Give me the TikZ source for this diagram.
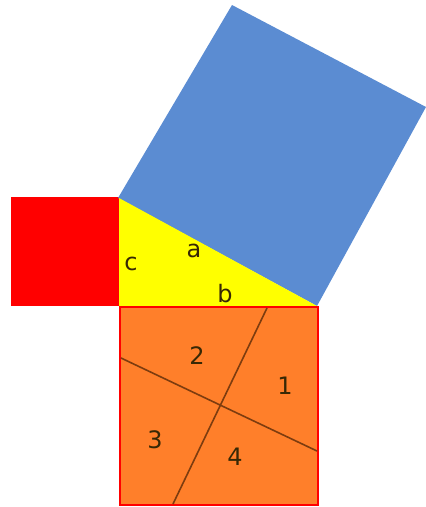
\documentclass[tikz,border=0pt]{standalone}
\usepackage{fontspec}
\setmainfont{DejaVu Sans}
\definecolor{sqred}{RGB}{255,0,0}
\definecolor{triyellow}{RGB}{255,255,0}
\definecolor{sqblue}{RGB}{91,140,210}
\definecolor{sqorange}{RGB}{255,127,42}
\definecolor{cutline}{RGB}{125,60,15}
\definecolor{labeltext}{RGB}{55,40,5}
\tikzset{
  lbl/.style={text=labeltext, font=\fontsize{24}{28}\selectfont, inner sep=0pt},
  cut/.style={draw=cutline, line width=1.6pt}
}
\begin{document}
\begin{tikzpicture}[x=1pt,y=-1pt]
\useasboundingbox (0,0) rectangle (426,507);
% red square
\fill[sqred] (11,197) rectangle (119,306);
% blue square
\fill[sqblue] (118,198) -- (232,5) -- (426,107) -- (317,306) -- cycle;
% yellow triangle
\fill[triyellow] (119,198) -- (119,306) -- (317,306) -- cycle;
% orange square
\draw[fill=sqorange, draw=sqred, line width=1.2pt] (120,307) rectangle (318,505);
% cuts
\coordinate (a1) at (267,308);
\coordinate (a2) at (173,504);
\coordinate (b1) at (121,358);
\coordinate (b2) at (317,451);
\draw[cut] (a1) -- (a2);
\draw[cut] (b1) -- (b2);
% labels
\node[lbl] (lc) at (131,264) {c};
\node[lbl] (la) at (194,251) {a};
\node[lbl] (lb) at (225,294) {b};
\node[lbl] (n2) at (197,356) {2};
\node[lbl] (n1) at (285,386) {1};
\node[lbl] (n3) at (155,440) {3};
\node[lbl] (n4) at (235,457) {4};
\end{tikzpicture}
\end{document}
